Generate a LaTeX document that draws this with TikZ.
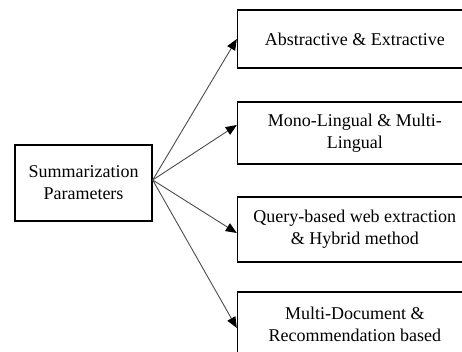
\documentclass[tikz,border=0pt]{standalone}
\usepackage{fontspec}
\setmainfont{Liberation Serif}
\usetikzlibrary{arrows.meta,positioning}

\begin{document}
\begin{tikzpicture}[
    x=1pt, y=-1pt,
    font=\fontsize{18}{22}\selectfont,
    param/.style={draw, line width=1.4pt, align=center, minimum width=137pt, minimum height=76pt},
    kind/.style={draw, line width=1.4pt, align=center, minimum width=234.5pt},
    branch/.style={-{Triangle[length=11pt, width=9pt, black]}, line width=0.9pt, black!70}
  ]

  % Frame
  \useasboundingbox (0,0) rectangle (462,352);
  \clip (0,0) rectangle (462,352);

  % Root box
  \node[param] (sum) at (83.5,183) {Summarization\\Parameters};

  % Parameter boxes
  \node[kind, minimum height=58pt] (abs) at (354.75,39) {Abstractive \& Extractive};
  \node[kind, minimum height=62pt] (mono) at (354.75,133) {Mono-Lingual \& Multi-\\Lingual};
  \node[kind, minimum height=65pt] (query) at (354.75,229.5) {Query-based web extraction\\\& Hybrid method};
  \node[kind, minimum height=65pt] (multi) at (354.75,324.5) {Multi-Document \&\\Recommendation based};

  % Arrows
  \draw[branch] ([yshift=3pt]sum.east) -- (abs.west);
  \draw[branch] ([yshift=3pt]sum.east) -- ([yshift=8pt]mono.west);
  \draw[branch] ([yshift=3pt]sum.east) -- ([yshift=-3.5pt]query.west);
  \draw[branch] ([yshift=3pt]sum.east) -- ([yshift=-3.5pt]multi.west);

\end{tikzpicture}
\end{document}
